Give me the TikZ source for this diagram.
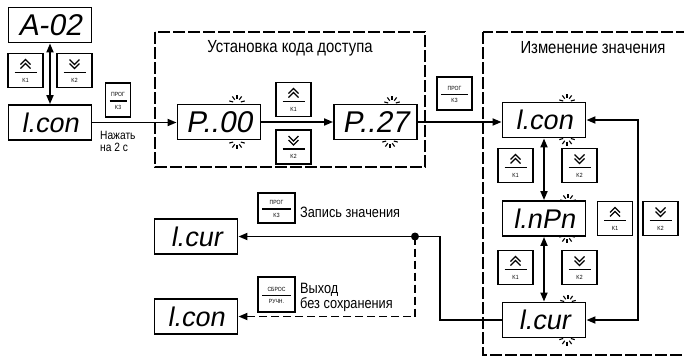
\documentclass[tikz,border=0pt]{standalone}
\usepackage{fontspec}
\setmainfont{Liberation Sans}[FakeStretch=0.85]
\newfontfamily\segfont{Liberation Sans}[FakeSlant=0.18]
\usetikzlibrary{arrows.meta,calc}

\tikzset{
 disp/.style={draw,line width=1.9pt,minimum width=83pt,minimum height=35pt,inner sep=0pt},
 dnum/.style={font=\segfont\fontsize{30}{30}\selectfont},
 dlet/.style={font=\segfont\fontsize{27}{27}\selectfont},
 btn/.style={draw,line width=1.5pt,minimum width=35pt,minimum height=34pt,inner sep=0pt},
 sym/.style={line width=1.1pt},
 ktxt/.style={font=\fontsize{6}{6}\selectfont,inner sep=0pt},
 frame/.style={draw,line width=1.3pt,dash pattern=on 12pt off 3pt},
 conn/.style={line width=1.8pt},
 arr/.style={-{Triangle[length=9pt,width=7pt]}},
 darr/.style={{Triangle[length=9pt,width=7pt]}-{Triangle[length=9pt,width=7pt]}},
 ttl/.style={font=\fontsize{17.5}{17.5}\selectfont},
 lbl/.style={font=\fontsize{15}{11}\selectfont,align=left,anchor=west,inner sep=0pt},
 sml/.style={font=\fontsize{12}{12}\selectfont,align=left,anchor=north west,inner sep=0pt},
 ray/.style={line width=1.1pt},
}

% up button: name, x, y
\newcommand\kup[3]{%
  \node[btn] (#1) at (#2,#3) {};
  \draw[sym] (#2-5,#3-6) -- (#2,#3-11) -- (#2+5,#3-6);
  \draw[sym] (#2-5,#3-2) -- (#2,#3-7) -- (#2+5,#3-2);
  \draw[line width=1.3pt] (#2-11,#3+2) -- (#2+11,#3+2);
  \node[ktxt] (#1t) at (#2,#3+9.5) {K1};
}
% down button
\newcommand\kdn[3]{%
  \node[btn] (#1) at (#2,#3) {};
  \draw[sym] (#2-5,#3-11) -- (#2,#3-6) -- (#2+5,#3-11);
  \draw[sym] (#2-5,#3-7) -- (#2,#3-2) -- (#2+5,#3-7);
  \draw[line width=1.3pt] (#2-11,#3+2) -- (#2+11,#3+2);
  \node[ktxt] (#1t) at (#2,#3+9.5) {K2};
}
% two-text button: name, x, y, width, height, top, bottom
\newcommand\kprog[7]{%
  \node[btn,minimum width=#4pt,minimum height=#5pt] (#1) at (#2,#3) {};
  \node[ktxt] (#1a) at (#2,#3-5.5) {#6};
  \draw[line width=1.1pt] (#2-#4/2+4,#3+1) -- (#2+#4/2-4,#3+1);
  \node[ktxt] (#1b) at (#2,#3+7) {#7};
}
% sparkles above / below
\newcommand\sparkup[2]{%
  \foreach \a in {-165,-125,-90,-55,-15} \draw[ray] (#1,#2) ++(\a:4) -- ++(\a:4);
}
\newcommand\sparkdn[2]{%
  \foreach \a in {15,55,90,125,165} \draw[ray] (#1,#2) ++(\a:4) -- ++(\a:4);
}

\begin{document}
\begin{tikzpicture}[x=1pt,y=-1pt]
\useasboundingbox (0,0) rectangle (684,360);
\clip (0,0) rectangle (684,360);
\fill[white] (0,0) rectangle (684,360);

% frames
\draw[frame] (155,32) rectangle (425,167);
\draw[frame] (483,32) rectangle (720,355);
\node[ttl] (t1) at (290,48) {Установка кода доступа};
\node[ttl] (t2) at (593,48) {Изменение значения};

% left column
\node[disp,dnum] (a02) at (50,25) {A-02};
\node[disp,dlet] (lcon1) at (50,122.5) {l.con};
\kup{b1}{25.5}{70.5}
\kdn{b2}{74.5}{70.5}
\draw[conn,darr] (a02) -- (lcon1);
\kprog{p1}{118}{100}{25}{34}{ПРОГ}{K3}
\node[sml] (press) at (100,131) {Нажать\\на 2 с};

% code entry
\node[disp,dnum] (p00) at (219,122) {P..00};
\node[disp,dnum] (p27) at (375.5,122) {P..27};
\kup{b3}{293.5}{99.5}
\kdn{b4}{293.5}{147}
\draw[conn,arr] (lcon1) -- (lcon1 -| p00.west);
\draw[conn,arr] (p00) -- (p27);
\sparkup{237}{103}
\sparkdn{237}{141}
\sparkup{392}{104}
\sparkdn{390}{140}

% change value
\kprog{p2}{454.5}{93.5}{35}{33}{ПРОГ}{K3}
\node[disp,dlet] (lcon2) at (544,120) {l.con};
\node[disp,dlet] (lnpn) at (544,218.5) {l.nPn};
\node[disp,dlet] (lcur) at (544,320) {l.cur};
\draw[conn,arr] (p27) -- (p27 -| lcon2.west);
\draw[conn,darr] (lcon2) -- (lnpn);
\draw[conn,darr] (lnpn) -- (lcur);
\kup{b5}{515.5}{165.5}
\kdn{b6}{579.5}{165.5}
\kup{b7}{615}{218.5}
\kdn{b8}{660.5}{218.5}
\kup{b9}{515.5}{267.5}
\kdn{b10}{579.5}{267.5}
\coordinate (rt) at (638,120);
\draw[conn,darr] (lcur.east) -- (lcur.east -| rt) -- (rt) -- (lcon2.east);
\sparkup{567}{102}
\sparkdn{567}{137.5}
\sparkup{568}{202}
\sparkdn{567}{235}
\sparkup{568}{302.5}
\sparkdn{567}{337.5}

% exit
\node[disp,dlet] (lcur3) at (196,236.5) {l.cur};
\node[disp,dlet] (lcon3) at (196,316.5) {l.con};
\coordinate (dot) at (415,236.5);
\coordinate (bend) at (440,236.5);
\draw[conn] (lcur.west) -| (bend) -- (dot);
\draw[conn,arr] (dot) -- (lcur3.east);
\fill (dot) circle (4);
\draw[conn,arr,dash pattern=on 8pt off 4pt] (dot) |- (lcon3.east);
\kprog{p3}{276.5}{208}{37}{30}{ПРОГ}{K3}
\kprog{p4}{276.5}{294.5}{37}{35}{СБРОС}{РУЧН.}
\node[lbl] (save) at (300,212) {Запись значения};
\node[lbl] (nosave) at (300,297) {Выход\\без сохранения};
\end{tikzpicture}
\end{document}
